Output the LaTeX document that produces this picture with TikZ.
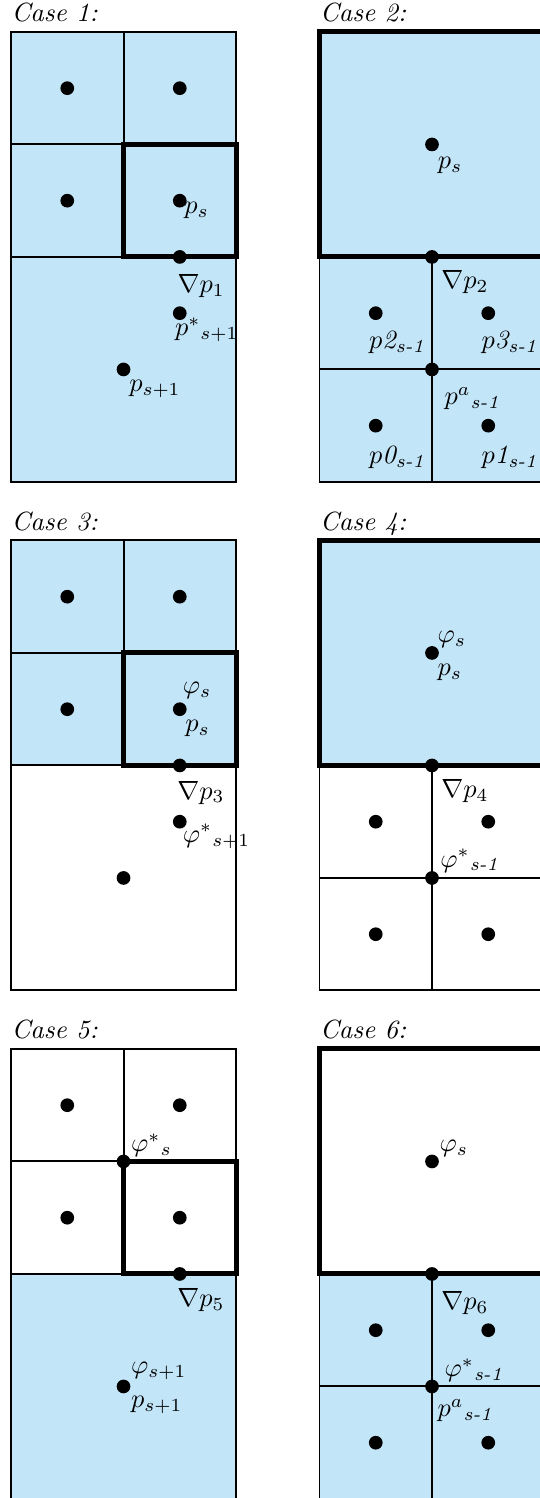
\documentclass[tikz,border=0pt]{standalone}
\usepackage{amssymb}
\usepackage{amsmath}
\usetikzlibrary{positioning}

\definecolor{cellblue}{RGB}{195,229,248}
\tikzset{
  dot/.style={circle,fill=black,inner sep=0pt,minimum size=5.2pt},
  thin grid/.style={line width=0.75pt},
  bold cell/.style={line width=1.9pt},
  lab/.style={inner sep=1pt},
  casetitle/.style={anchor=base west,inner sep=0pt,font=\itshape}
}

\begin{document}
\begin{tikzpicture}[x=1.5cm,y=1.5cm]
\useasboundingbox (0,0) rectangle (4.8,-13.3156);

% Case 1
\begin{scope}[shift={(0.098,-0.284)}]
\node[casetitle] (t1) at (0,0.09) {Case 1:};
\fill[cellblue] (0,0) rectangle (2,-4);
\draw[thin grid] (0,0) rectangle (2,-4) (0,-1) -- (2,-1) (0,-2) -- (2,-2) (1,0) -- (1,-2);
\draw[bold cell] (1,-1) rectangle (2,-2);
\node[dot] (a1) at (0.5,-0.5) {};
\node[dot] (a2) at (1.5,-0.5) {};
\node[dot] (a3) at (0.5,-1.5) {};
\node[dot] (a4) at (1.5,-1.5) {};
\node[dot] (a5) at (1.5,-2) {};
\node[dot] (a6) at (1.5,-2.5) {};
\node[dot] (a7) at (1,-3) {};
\node[lab,below right=-0.5pt and 0.5pt of a4.center] (a4l) {$p_s$};
\node[lab,below right=5.5pt and -2pt of a5.center] (a5l) {$\nabla p_1$};
\node[lab,below right=0.5pt and -3pt of a6.center] (a6l) {$p^{*}{}_{s+1}$};
\node[lab,below right=2.8pt and 1pt of a7.center] (a7l) {$p_{s+1}$};
\end{scope}

% Case 2
\begin{scope}[shift={(2.84,-0.284)}]
\node[casetitle] (t2) at (0,0.09) {Case 2:};
\fill[cellblue] (0,0) rectangle (2,-4);
\draw[thin grid] (0,0) rectangle (2,-4) (0,-3) -- (2,-3) (1,-2) -- (1,-4);
\draw[bold cell] (0,0) rectangle (2,-2);
\node[dot] (b1) at (1,-1) {};
\node[dot] (b2) at (1,-2) {};
\node[dot] (b3) at (0.5,-2.5) {};
\node[dot] (b4) at (1.5,-2.5) {};
\node[dot] (b5) at (1,-3) {};
\node[dot] (b6) at (0.5,-3.5) {};
\node[dot] (b7) at (1.5,-3.5) {};
\node[lab,below right=3.6pt and 1pt of b1.center] (b1l) {$p_s$};
\node[lab,below right=3.9pt and 2.4pt of b2.center] (b2l) {$\nabla p_2$};
\node[lab,below right=5.8pt and -3.7pt of b3.center] (b3l) {$p\mathit{2}_{\textit{s-1}}$};
\node[lab,below right=5.8pt and -3.7pt of b4.center] (b4l) {$p\mathit{3}_{\textit{s-1}}$};
\node[lab,below right=5.5pt and 3.6pt of b5.center] (b5l) {$p^{a}{}_{\textit{s-1}}$};
\node[lab,below right=6.6pt and -3.7pt of b6.center] (b6l) {$p\mathit{0}_{\textit{s-1}}$};
\node[lab,below right=6.6pt and -3.7pt of b7.center] (b7l) {$p\mathit{1}_{\textit{s-1}}$};
\end{scope}

% Case 3
\begin{scope}[shift={(0.098,-4.804)}]
\node[casetitle] (t3) at (0,0.09) {Case 3:};
\fill[cellblue] (0,0) rectangle (2,-2);
\draw[thin grid] (0,0) rectangle (2,-4) (0,-1) -- (2,-1) (0,-2) -- (2,-2) (1,0) -- (1,-2);
\draw[bold cell] (1,-1) rectangle (2,-2);
\node[dot] (c1) at (0.5,-0.5) {};
\node[dot] (c2) at (1.5,-0.5) {};
\node[dot] (c3) at (0.5,-1.5) {};
\node[dot] (c4) at (1.5,-1.5) {};
\node[dot] (c5) at (1.5,-2) {};
\node[dot] (c6) at (1.5,-2.5) {};
\node[dot] (c7) at (1,-3) {};
\node[lab,above right=2.8pt and 0pt of c4.center] (c4u) {$\varphi_s$};
\node[lab,below right=2.8pt and 0.9pt of c4.center] (c4l) {$p_s$};
\node[lab,below right=4.7pt and -2.1pt of c5.center] (c5l) {$\nabla p_3$};
\node[lab,below right=-0.2pt and 0pt of c6.center] (c6l) {$\varphi^{*}{}_{s+1}$};
\end{scope}

% Case 4
\begin{scope}[shift={(2.84,-4.804)}]
\node[casetitle] (t4) at (0,0.09) {Case 4:};
\fill[cellblue] (0,0) rectangle (2,-2);
\draw[thin grid] (0,0) rectangle (2,-4) (0,-3) -- (2,-3) (1,-2) -- (1,-4);
\draw[bold cell] (0,0) rectangle (2,-2);
\node[dot] (d1) at (1,-1) {};
\node[dot] (d2) at (1,-2) {};
\node[dot] (d3) at (0.5,-2.5) {};
\node[dot] (d4) at (1.5,-2.5) {};
\node[dot] (d5) at (1,-3) {};
\node[dot] (d6) at (0.5,-3.5) {};
\node[dot] (d7) at (1.5,-3.5) {};
\node[lab,above right=0.9pt and 0.9pt of d1.center] (d1u) {$\varphi_s$};
\node[lab,below right=3.2pt and 0.9pt of d1.center] (d1l) {$p_s$};
\node[lab,below right=4.3pt and 2.4pt of d2.center] (d2l) {$\nabla p_4$};
\node[lab,above right=1pt and 2pt of d5.center] (d5u) {$\varphi^{*}{}_{\textit{s-1}}$};
\end{scope}

% Case 5
\begin{scope}[shift={(0.098,-9.324)}]
\node[casetitle] (t5) at (0,0.09) {Case 5:};
\fill[cellblue] (0,-2) rectangle (2,-4);
\draw[thin grid] (0,0) rectangle (2,-4) (0,-1) -- (2,-1) (0,-2) -- (2,-2) (1,0) -- (1,-2);
\draw[bold cell] (1,-1) rectangle (2,-2);
\node[dot] (e1) at (0.5,-0.5) {};
\node[dot] (e2) at (1.5,-0.5) {};
\node[dot] (e3) at (1,-1) {};
\node[dot] (e4) at (0.5,-1.5) {};
\node[dot] (e5) at (1.5,-1.5) {};
\node[dot] (e6) at (1.5,-2) {};
\node[dot] (e7) at (1,-3) {};
\node[lab,above right=0.5pt and 1.7pt of e3.center] (e3u) {$\varphi^{*}{}_{s}$};
\node[lab,below right=4.3pt and -2.1pt of e6.center] (e6l) {$\nabla p_5$};
\node[lab,above right=1.3pt and 1.7pt of e7.center] (e7u) {$\varphi_{s+1}$};
\node[lab,below right=2.4pt and 1.7pt of e7.center] (e7l) {$p_{s+1}$};
\end{scope}

% Case 6
\begin{scope}[shift={(2.84,-9.324)}]
\node[casetitle] (t6) at (0,0.09) {Case 6:};
\fill[cellblue] (0,-2) rectangle (2,-4);
\draw[thin grid] (0,0) rectangle (2,-4) (0,-3) -- (2,-3) (1,-2) -- (1,-4);
\draw[bold cell] (0,0) rectangle (2,-2);
\node[dot] (f1) at (1,-1) {};
\node[dot] (f2) at (1,-2) {};
\node[dot] (f3) at (0.5,-2.5) {};
\node[dot] (f4) at (1.5,-2.5) {};
\node[dot] (f5) at (1,-3) {};
\node[dot] (f6) at (0.5,-3.5) {};
\node[dot] (f7) at (1.5,-3.5) {};
\node[lab,above right=0.5pt and 1.7pt of f1.center] (f1u) {$\varphi_s$};
\node[lab,below right=5.5pt and 2.4pt of f2.center] (f2l) {$\nabla p_6$};
\node[lab,above right=0.5pt and 3.6pt of f5.center] (f5u) {$\varphi^{*}{}_{\textit{s-1}}$};
\node[lab,below right=3.6pt and 0.9pt of f5.center] (f5l) {$p^{a}{}_{\textit{s-1}}$};
\end{scope}
\end{tikzpicture}
\end{document}
